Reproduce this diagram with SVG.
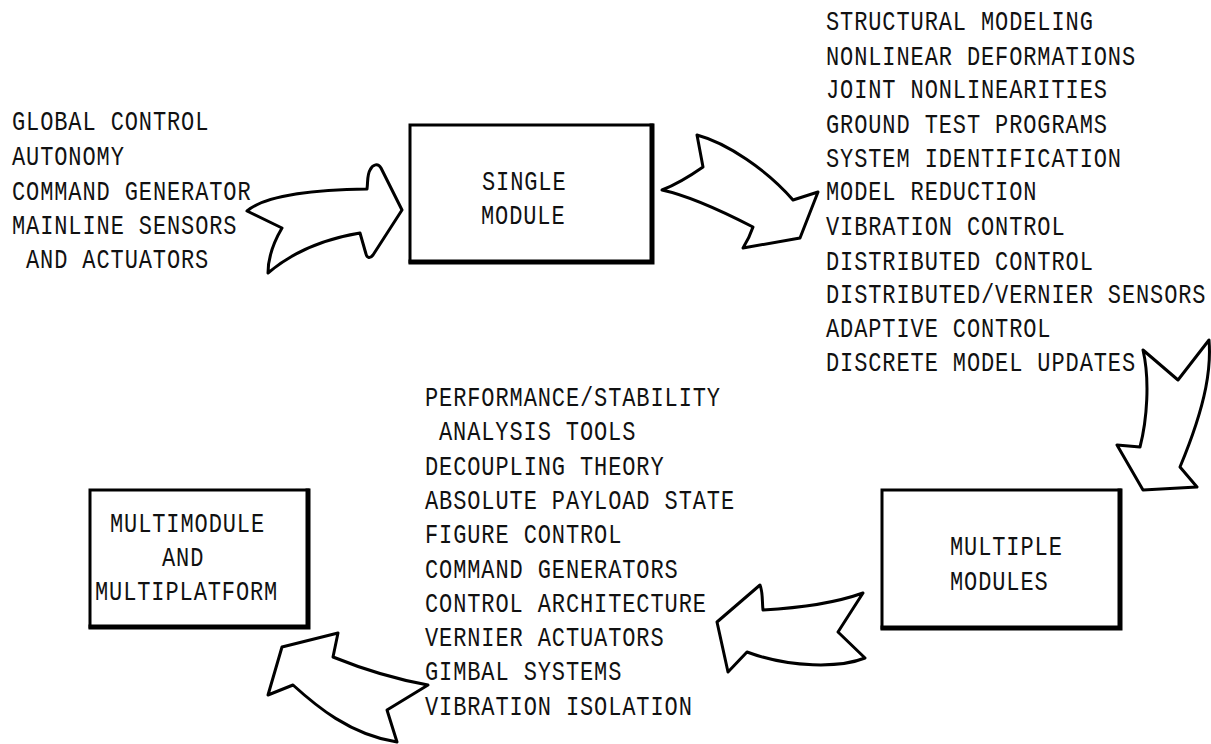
<svg xmlns="http://www.w3.org/2000/svg" width="1211" height="744" viewBox="0 0 1211 744">
<style>
  .t { font-family: "Liberation Mono", "DejaVu Sans Mono", monospace; font-size: 22px; letter-spacing: 0.9px; fill: #111; }
  .box { fill: #fff; stroke: #000; stroke-width: 3; }
  .shade { fill: none; stroke: #000; stroke-width: 5; stroke-linecap: square; }
  .arrow { fill: #fff; stroke: #000; stroke-width: 3; stroke-linejoin: round; }
</style>
<rect width="1211" height="744" fill="#fff"/>

<g id="connectors">
  <path class="arrow" d="M 247,211 C 262,198 300,190 367,189 C 368,182 367,175 370,170 C 373,164 378,163 381,168 L 402,210 L 373,255 C 370,259 367,258 366,254 L 360,233 C 330,238 295,250 268,273 C 268,262 272,245 282,228 Z"/>
  <path class="arrow" d="M 697,135 C 727,143 767,170 793,200 L 818,192 L 800,238 L 743,248 C 748,240 751,233 753,227 C 720,210 690,196 662,190 C 680,183 693,174 703,167 Z"/>
  <path class="arrow" d="M 1143,350 L 1178,380 L 1209,340 C 1211,365 1208,400 1180,467 L 1197,487 L 1143,490 L 1117,445 L 1140,447 C 1147,420 1150,380 1143,350 Z"/>
  <path class="arrow" d="M 863,593 L 838,632 L 865,658 C 840,668 790,668 747,652 L 728,672 L 717,622 L 760,585 C 763,592 762,602 763,610 C 800,608 835,603 863,593 Z"/>
  <path class="arrow" d="M 428,685 C 400,680 365,670 333,657 L 338,633 L 282,647 L 268,695 L 293,685 C 315,705 350,735 397,742 L 387,710 Z"/>
</g>

<g id="single-module">
  <rect class="box" x="410" y="125" width="242" height="137"/>
  <polyline class="shade" points="652,126 652,262 411,262"/>
  <text class="t" transform="translate(482,190) scale(1,1.27)">SINGLE</text>
  <text class="t" transform="translate(481,224) scale(1,1.27)">MODULE</text>
</g>

<g id="multiple-modules">
  <rect class="box" x="882" y="490" width="238" height="138"/>
  <polyline class="shade" points="1120,491 1120,628 883,628"/>
  <text class="t" transform="translate(950,555) scale(1,1.27)">MULTIPLE</text>
  <text class="t" transform="translate(950,590) scale(1,1.27)">MODULES</text>
</g>

<g id="multimodule">
  <rect class="box" x="90" y="490" width="218" height="137"/>
  <polyline class="shade" points="308,491 308,627 91,627"/>
  <text class="t" transform="translate(110,532) scale(1,1.27)">MULTIMODULE</text>
  <text class="t" transform="translate(162,566) scale(1,1.27)">AND</text>
  <text class="t" transform="translate(95,600) scale(1,1.27)">MULTIPLATFORM</text>
</g>

<g id="list-single-module">
  <text class="t" transform="translate(12,130) scale(1,1.27)">GLOBAL CONTROL</text>
  <text class="t" transform="translate(12,165) scale(1,1.27)">AUTONOMY</text>
  <text class="t" transform="translate(12,200) scale(1,1.27)">COMMAND GENERATOR</text>
  <text class="t" transform="translate(12,234) scale(1,1.27)">MAINLINE SENSORS</text>
  <text class="t" transform="translate(26,268) scale(1,1.27)">AND ACTUATORS</text>
</g>

<g id="list-multiple-modules">
  <text class="t" transform="translate(826,30) scale(1,1.27)">STRUCTURAL MODELING</text>
  <text class="t" transform="translate(826,65) scale(1,1.27)">NONLINEAR DEFORMATIONS</text>
  <text class="t" transform="translate(826,98) scale(1,1.27)">JOINT NONLINEARITIES</text>
  <text class="t" transform="translate(826,133) scale(1,1.27)">GROUND TEST PROGRAMS</text>
  <text class="t" transform="translate(826,167) scale(1,1.27)">SYSTEM IDENTIFICATION</text>
  <text class="t" transform="translate(826,200) scale(1,1.27)">MODEL REDUCTION</text>
  <text class="t" transform="translate(826,235) scale(1,1.27)">VIBRATION CONTROL</text>
  <text class="t" transform="translate(826,270) scale(1,1.27)">DISTRIBUTED CONTROL</text>
  <text class="t" transform="translate(826,303) scale(1,1.27)">DISTRIBUTED/VERNIER SENSORS</text>
  <text class="t" transform="translate(826,337) scale(1,1.27)">ADAPTIVE CONTROL</text>
  <text class="t" transform="translate(826,371) scale(1,1.27)">DISCRETE MODEL UPDATES</text>
</g>

<g id="list-multimodule">
  <text class="t" transform="translate(425,406) scale(1,1.27)">PERFORMANCE/STABILITY</text>
  <text class="t" transform="translate(439,440) scale(1,1.27)">ANALYSIS TOOLS</text>
  <text class="t" transform="translate(425,475) scale(1,1.27)">DECOUPLING THEORY</text>
  <text class="t" transform="translate(425,509) scale(1,1.27)">ABSOLUTE PAYLOAD STATE</text>
  <text class="t" transform="translate(425,543) scale(1,1.27)">FIGURE CONTROL</text>
  <text class="t" transform="translate(425,578) scale(1,1.27)">COMMAND GENERATORS</text>
  <text class="t" transform="translate(425,612) scale(1,1.27)">CONTROL ARCHITECTURE</text>
  <text class="t" transform="translate(425,646) scale(1,1.27)">VERNIER ACTUATORS</text>
  <text class="t" transform="translate(425,680) scale(1,1.27)">GIMBAL SYSTEMS</text>
  <text class="t" transform="translate(425,715) scale(1,1.27)">VIBRATION ISOLATION</text>
</g>
</svg>
